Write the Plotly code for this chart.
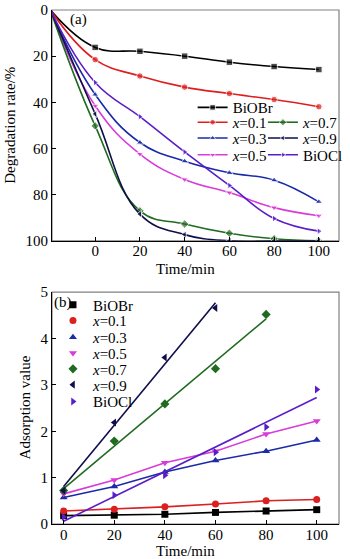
import numpy as np
import plotly.graph_objects as go

# ---------------- data ----------------
names = ["BiOBr", "<i>x</i>=0.1", "<i>x</i>=0.3", "<i>x</i>=0.5", "<i>x</i>=0.7", "<i>x</i>=0.9", "BiOCl"]
colors = ["#000000", "#dc1f1f", "#1b2aa8", "#d93bd9", "#1f6b1f", "#0e0e4a", "#5a1ec8"]
symbols = ["square", "circle", "triangle-up", "triangle-down", "diamond", "triangle-left", "triangle-right"]

# (a) degradation rate, %
time_a = [-20, 0, 20, 40, 60, 80, 100]
deg_BiOBr = [0, 16.2, 17.9, 20.0, 22.6, 24.5, 25.8]
deg_x01 = [0, 21.5, 28.6, 33.4, 36.2, 38.8, 41.9]
deg_x03 = [0, 36.6, 57.4, 65.5, 70.5, 73.7, 83.1]
deg_x05 = [0, 41.5, 62.4, 73.4, 79.1, 85.6, 89.1]
deg_x07 = [0, 50.2, 87.0, 92.7, 96.7, 99.1, 100]
deg_x09 = [0, 45.0, 88.4, 97.3, 100, 100, 100]
deg_BiOCl = [0, 31.4, 46.2, 61.5, 76.0, 90.3, 95.8]
deg_all = [deg_BiOBr, deg_x01, deg_x03, deg_x05, deg_x07, deg_x09, deg_BiOCl]

# (b) adsorption value
time_b = [0, 20, 40, 60, 80, 100]
ads_BiOBr = [0.18, 0.19, 0.21, 0.25, 0.28, 0.31]
ads_x01 = [0.28, 0.32, 0.37, 0.43, 0.50, 0.53]
ads_x03 = [0.57, 0.81, 1.12, 1.37, 1.57, 1.81]
ads_x05 = [0.65, 0.95, 1.32, 1.57, 1.94, 2.22]
ads_x07 = [0.72, 1.79, 2.59, 3.35, 4.52]
ads_x09 = [0.72, 2.19, 3.59, 4.66]
ads_BiOCl = [0.15, 0.62, 1.05, 1.55, 2.09, 2.90]
ads_all = [ads_BiOBr, ads_x01, ads_x03, ads_x05, ads_x07, ads_x09, ads_BiOCl]
ads_fit = [False, False, False, False, True, True, True]

xticks = [0, 20, 40, 60, 80, 100]
yticks_a = [0, 20, 40, 60, 80, 100]
yticks_b = [0, 1, 2, 3, 4, 5]

FONT = "Liberation Serif, Times New Roman, serif"
FS = 15

fig = go.Figure()

def py2paper(py):
    return (524 - py) / 521.0

LEG_SHIFT = -5
legend_a_pos = [(0.49, 107), (0.49, 122), (0.49, 138), (0.49, 155),
                (0.735, 122), (0.735, 138), (0.735, 155)]
legend_b_rows = [307, 323, 340, 356, 372, 388, 405]

# ---- panel (a) ----
for i in range(7):
    msize = [0] + [6.5] * (len(time_a) - 1)
    fig.add_trace(go.Scatter(
        x=time_a, y=deg_all[i], mode="lines+markers", name=names[i],
        line=dict(color=colors[i], width=1.6, shape="spline", smoothing=1.2),
        marker=dict(color=colors[i], symbol=symbols[i], size=msize),
        xaxis="x", yaxis="y", legend=("legend" if i == 0 else f"legend{i+1}"),
    ))

# ---- panel (b) ----
for i in range(7):
    t = time_b[:len(ads_all[i])]
    if ads_fit[i]:
        k, b = np.polyfit(t, ads_all[i], 1)
        tl = [t[0], t[-1]]
        yl = [b + k * tl[0], b + k * tl[1]]
    else:
        tl, yl = t, ads_all[i]
    fig.add_trace(go.Scatter(
        x=tl, y=yl, mode="lines", showlegend=False,
        line=dict(color=colors[i], width=1.6), xaxis="x2", yaxis="y2"))
    fig.add_trace(go.Scatter(
        x=t, y=ads_all[i], mode="markers", name=names[i],
        marker=dict(color=colors[i], symbol=symbols[i], size=7),
        xaxis="x2", yaxis="y2", legend=f"legend{i+8}"))

axis_common = dict(showline=True, linecolor="black", linewidth=1.2, ticks="inside",
                   ticklen=4, tickcolor="black", showgrid=False, zeroline=False,
                   tickfont=dict(family=FONT, size=FS, color="black"))

def ann(text, px, py, **kw):
    d = dict(text=text, x=(px - 52) / 296, y=py2paper(py), xref="paper", yref="paper",
             xanchor="center", yanchor="middle", showarrow=False,
             font=dict(family=FONT, size=FS, color="black"))
    d.update(kw)
    return d

layout = dict(
    width=350, height=559, plot_bgcolor="white", paper_bgcolor="white",
    margin=dict(l=52, r=2, t=3, b=35),
    font=dict(family=FONT, size=FS, color="black"),
    xaxis=dict(domain=[0, 1], range=[-19.3, 109], tickvals=xticks, anchor="y",
               ticklabelstandoff=-4, **axis_common),
    yaxis=dict(domain=[py2paper(237), 1], range=[100, 0], tickvals=yticks_a, anchor="x", **axis_common),
    xaxis2=dict(domain=[0, 1], range=[-4.6, 108.8], tickvals=xticks, anchor="y2",
                ticklabelstandoff=-3, **axis_common),
    yaxis2=dict(domain=[0, py2paper(289)], range=[0, 5], tickvals=yticks_b, anchor="x2", **axis_common),
    shapes=[
        dict(type="rect", xref="x domain", yref="y domain", x0=0, x1=1, y0=0, y1=1,
             line=dict(color="#808080", width=1.2), layer="below"),
        dict(type="rect", xref="x2 domain", yref="y2 domain", x0=0, x1=1, y0=0, y1=1,
             line=dict(color="#808080", width=1.2), layer="below"),
    ],
    annotations=[
        ann("(a)", 79, 13),
        ann("(b)", 63, 299),
        ann("Degradation rate/%", 9, 120, textangle=-90),
        ann("Adsorption value", 24, 406, textangle=-90),
        ann("Time/min", 190, 266),
        ann("Time/min", 190, 551),
    ],
)

for i in range(7):
    key = "legend" if i == 0 else f"legend{i+1}"
    xx, py = legend_a_pos[i]
    layout[key] = dict(x=xx, y=py2paper(py + LEG_SHIFT), xanchor="left", yanchor="middle",
                       bgcolor="rgba(0,0,0,0)", borderwidth=0,
                       font=dict(family=FONT, size=FS, color="black"))
for i in range(7):
    key = f"legend{i+8}"
    layout[key] = dict(x=(53 - 52) / 296, y=py2paper(legend_b_rows[i] + LEG_SHIFT), xanchor="left",
                       yanchor="middle", bgcolor="rgba(0,0,0,0)", borderwidth=0,
                       font=dict(family=FONT, size=FS, color="black"))

fig.update_layout(**layout)
fig.write_html("out.html")
